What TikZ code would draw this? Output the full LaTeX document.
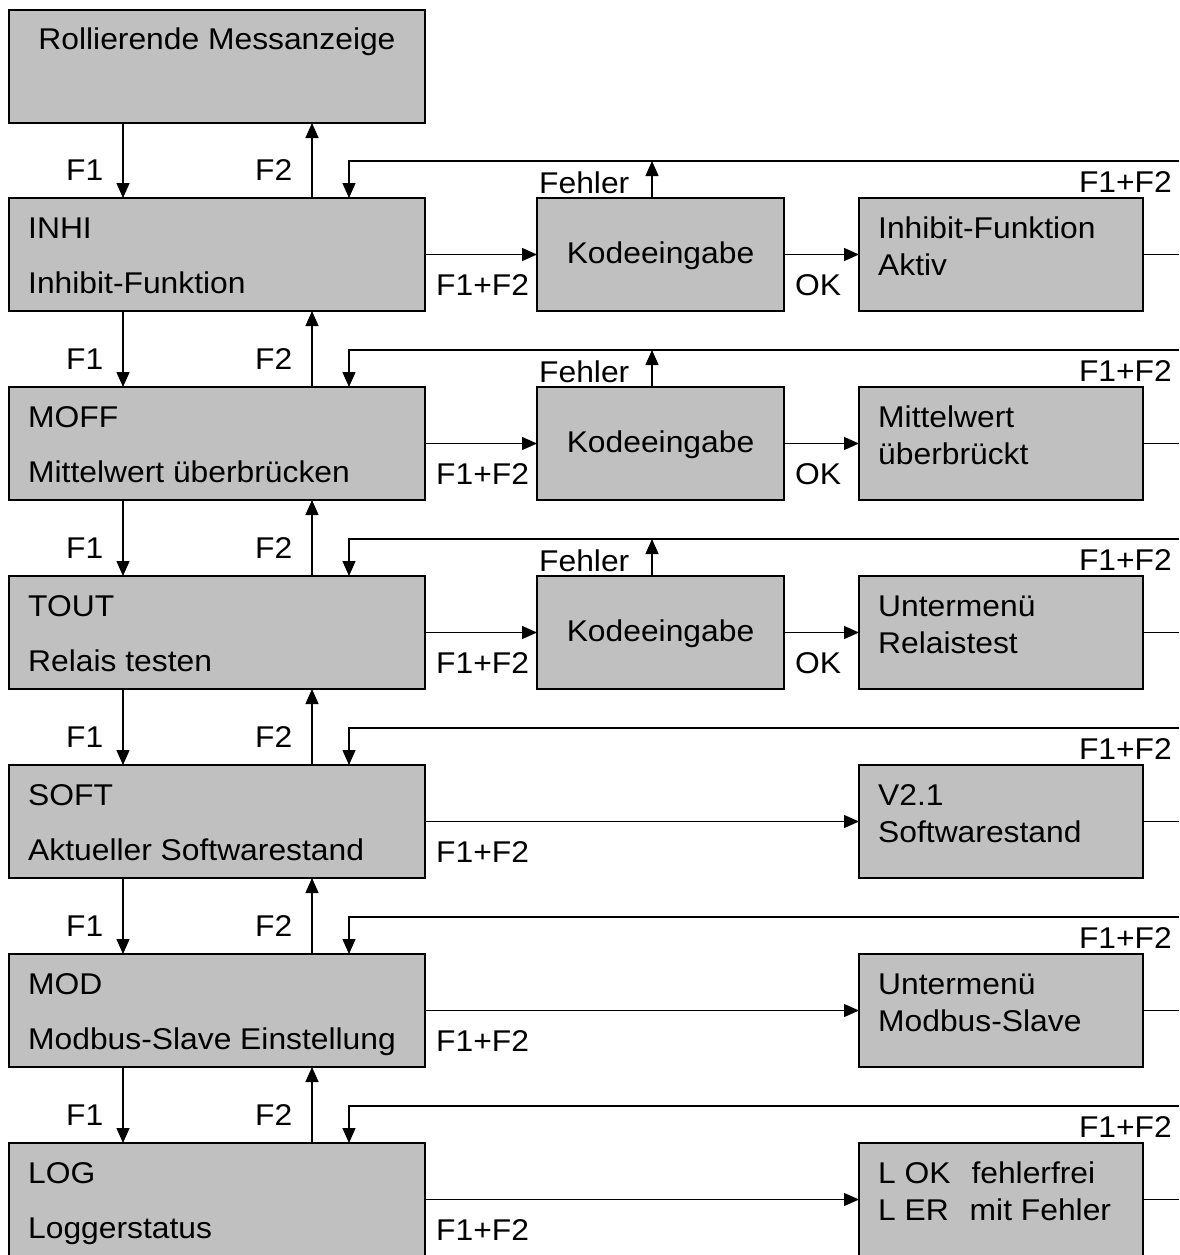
\documentclass[tikz,border=0pt]{standalone}
\usepackage{fontspec}
\setmainfont{Liberation Sans}[FakeStretch=1.06]
\usetikzlibrary{arrows.meta}
\definecolor{boxgray}{RGB}{192,192,192}
\tikzset{
  box/.style={draw, fill=boxgray, line width=1.6pt, inner sep=0pt, outer sep=0pt, anchor=north west, minimum height=113pt},
  mainbox/.style={box, minimum width=416pt},
  codebox/.style={box, minimum width=247pt},
  resultbox/.style={box, minimum width=284pt},
  txt/.style={inner sep=0pt, anchor=base west},
  conn/.style={line width=1.3pt},
  arr/.style={conn, -{Triangle[length=15pt,width=13pt]}},
}
\begin{document}
\begin{tikzpicture}[x=1pt, y=-1pt, font=\fontsize{30}{36}\selectfont]
\useasboundingbox (0,0) rectangle (1179,1255);
\clip (0,0) rectangle (1179,1255);
\fill[white] (0,0) rectangle (1179,1255);

% fixed columns
\coordinate (cF1) at (123,0);
\coordinate (cF2) at (312,0);
\coordinate (cBack) at (349,0);
\coordinate (cErr) at (652,0);

% top display
\node[mainbox] (m0) at (9,10) {};
\node[inner sep=0pt, anchor=base] (m0t) at (217,50) {Rollierende Messanzeige};

% menu rows: index / code / description / result line 1 / result line 2 / with code entry
\foreach \i/\code/\desc/\ra/\rb/\withkey in {
  1/INHI/Inhibit-Funktion/Inhibit-Funktion/Aktiv/1,
  2/MOFF/Mittelwert überbrücken/Mittelwert/überbrückt/1,
  3/TOUT/Relais testen/Untermenü/Relaistest/1,
  4/SOFT/Aktueller Softwarestand/V2.1/Softwarestand/0,
  5/MOD/Modbus-Slave Einstellung/Untermenü/Modbus-Slave/0,
  6/LOG/Loggerstatus/L OK\hspace{12pt} fehlerfrei/L ER\hspace{12pt} mit Fehler/0} {
  \pgfmathsetmacro{\T}{198+189*(\i-1)}
  \pgfmathtruncatemacro{\p}{\i-1}
  % main menu box
  \node[mainbox] (m\i) at (9,\T) {};
  \node[txt] (m\i a) at (28,\T+40) {\code};
  \node[txt] (m\i b) at (28,\T+95) {\desc};
  % F1 / F2 navigation
  \draw[arr] (cF1 |- m\p.south) -- (cF1 |- m\i.north);
  \draw[arr] (cF2 |- m\i.north) -- (cF2 |- m\p.south);
  \node[txt] (f1\i) at (66,\T-18) {F1};
  \node[txt] (f2\i) at (255,\T-18) {F2};
  % result box
  \node[resultbox] (r\i) at (859,\T) {};
  \node[txt] (r\i a) at (878,\T+40) {\ra};
  \node[txt] (r\i b) at (878,\T+77) {\rb};
  \coordinate (out\i) at (1179,0);
  \draw[conn] (r\i.east) -- (r\i.east -| out\i);
  % return path
  \coordinate (back\i) at (1179,\T-37);
  \draw[arr] (back\i) -| (cBack |- m\i.north);
  \node[inner sep=0pt, anchor=base east] (ff\i) at (1172,\T-6) {F1+F2};
  \node[txt] (fl\i) at (436,\T+97) {F1+F2};
  \ifnum\withkey=1
    \node[codebox] (k\i) at (537,\T) {};
    \node[inner sep=0pt, anchor=base] (k\i t) at (660.5,\T+65) {Kodeeingabe};
    \draw[arr] (m\i.east) -- (k\i.west);
    \draw[arr] (k\i.east) -- (r\i.west);
    \node[txt] (ok\i) at (795,\T+97) {OK};
    \draw[arr] (cErr |- k\i.north) -- (cErr |- back\i);
    \node[txt] (e\i) at (539,\T-5) {Fehler};
  \else
    \draw[arr] (m\i.east) -- (r\i.west);
  \fi
}
\end{tikzpicture}
\end{document}
